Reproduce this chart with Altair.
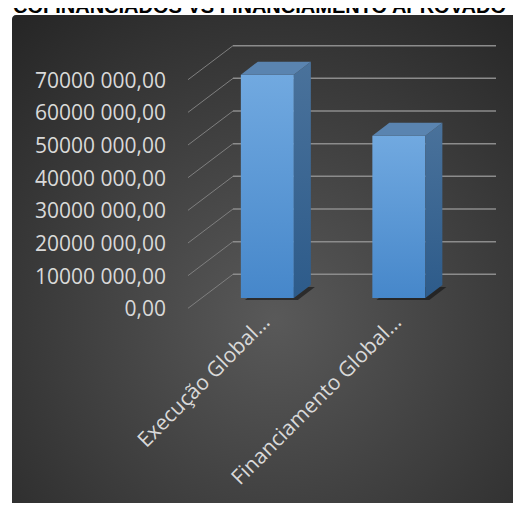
import altair as alt
import pandas as pd

# ---- data ----
categories = ["Execução Global…", "Financiamento Global…"]
values = [68400000, 49700000]
tick_values = [0, 10000000, 20000000, 30000000, 40000000, 50000000, 60000000, 70000000]
tick_labels = ["0,00", "10000 000,00", "20000 000,00", "30000 000,00",
               "40000 000,00", "50000 000,00", "60000 000,00", "70000 000,00"]
title_text = "COFINANCIADOS VS FINANCIAMENTO APROVADO"

bars = pd.DataFrame({"cat": categories, "idx": list(range(len(categories))), "value": values})
ticks = pd.DataFrame({"tick": tick_values, "label": tick_labels})

# ---- geometry / style ----
W, H = 505, 495
YMAX = 70000000
Y_RANGE = [266.3, 37.7]
X_RANGE = [225, 488]
PAD, BW = 0.2985, 0.403           # band layout in slot units
PX_PER_SLOT = (X_RANGE[1] - X_RANGE[0]) / 2
PX_PER_VAL = (Y_RANGE[0] - Y_RANGE[1]) / YMAX
DXU = 17 / PX_PER_SLOT            # bar depth in x (slot units)
DYU = 13 / PX_PER_VAL             # bar depth in y (value units)
FX, FY = -31.4, 23.7              # front-face plane offset (px)

yscale = alt.Scale(domain=[0, YMAX], range=Y_RANGE, nice=False, zero=False)
xscale = alt.Scale(domain=[0, 2], range=X_RANGE, nice=False, zero=False)

def X(field=None, datum=None):
    if datum is not None:
        return alt.X(datum=datum, type="quantitative", scale=xscale, axis=None)
    return alt.X(field, type="quantitative", scale=xscale, axis=None)

def Y(field=None, datum=None):
    if datum is not None:
        return alt.Y(datum=datum, type="quantitative", scale=yscale, axis=None)
    return alt.Y(field, type="quantitative", scale=yscale, axis=None)

bg = alt.Chart(alt.Data(values=[{}])).mark_rect(
    cornerRadius=4,
    fill={"gradient": "radial", "x1": 0.5, "y1": 0.6, "r1": 0,
          "x2": 0.5, "y2": 0.6, "r2": 0.75,
          "stops": [{"offset": 0, "color": "#595959"},
                    {"offset": 1, "color": "#262626"}]},
).encode(x=alt.value(4), x2=alt.value(530), y=alt.value(7), y2=alt.value(510))

grid = alt.Chart(ticks).mark_rule(color="#8c8c8c", strokeWidth=1.5).encode(
    y=Y("tick"), x=X(datum=0), x2=alt.X2(datum=2))

diag = alt.Chart(ticks).mark_rule(color="#7f7f7f", strokeWidth=1, xOffset=-45, yOffset=34).encode(
    x=X(datum=0), x2=alt.X2(datum=0), y=Y("tick"), y2=alt.Y2("tick"))

shadow = alt.Chart(bars).transform_calculate(k="[0, 1]").transform_flatten(["k"]).transform_calculate(
    ty=f"datum.k * {DYU}",
    tl=f"datum.idx + {PAD} + datum.k * {DXU}",
    tr=f"datum.idx + {PAD + BW} + datum.k * {DXU}",
).mark_area(orient="horizontal", color="#111111", opacity=0.6,
            xOffset=FX + 4, x2Offset=FX + 4, yOffset=FY + 2).encode(
    y=Y("ty"), x=X("tl"), x2=alt.X2("tr"), detail="cat:N")

front = alt.Chart(bars).transform_calculate(
    xl=f"datum.idx + {PAD}", xr=f"datum.idx + {PAD + BW}"
).mark_rect(
    xOffset=FX, x2Offset=FX, yOffset=FY, y2Offset=FY,
    fill={"gradient": "linear", "x1": 0, "y1": 0, "x2": 0, "y2": 1,
          "stops": [{"offset": 0, "color": "#71a9e0"},
                    {"offset": 1, "color": "#4687ca"}]},
).encode(x=X("xl"), x2=alt.X2("xr"), y=Y("value"), y2=alt.Y2(datum=0))

side = alt.Chart(bars).transform_calculate(k="[0, 1]").transform_flatten(["k"]).transform_calculate(
    sx=f"datum.idx + {PAD + BW} + datum.k * {DXU}",
    st=f"datum.value + datum.k * {DYU}",
    sb=f"datum.k * {DYU}",
).mark_area(
    orient="vertical", xOffset=FX, yOffset=FY, y2Offset=FY,
    fill={"gradient": "linear", "x1": 0, "y1": 0, "x2": 0, "y2": 1,
          "stops": [{"offset": 0, "color": "#4a729b"},
                    {"offset": 1, "color": "#2d5b8a"}]},
).encode(x=X("sx"), y=Y("st"), y2=alt.Y2("sb"), detail="cat:N")

top = alt.Chart(bars).transform_calculate(k="[0, 1]").transform_flatten(["k"]).transform_calculate(
    ty=f"datum.value + datum.k * {DYU}",
    tl=f"datum.idx + {PAD} + datum.k * {DXU}",
    tr=f"datum.idx + {PAD + BW} + datum.k * {DXU}",
).mark_area(orient="horizontal", color="#5a84b0",
            xOffset=FX, x2Offset=FX, yOffset=FY).encode(
    y=Y("ty"), x=X("tl"), x2=alt.X2("tr"), detail="cat:N")

ylab = alt.Chart(ticks).mark_text(
    align="right", baseline="middle", font="Open Sans", fontSize=21,
    color="#d9d9d9", xOffset=-67, yOffset=36,
).encode(x=X(datum=0), y=Y("tick"), text="label:N")

xlab = alt.Chart(bars).transform_calculate(xc="datum.idx + 0.5").mark_text(
    angle=315, align="right", baseline="middle", font="Open Sans", fontSize=21,
    color="#d9d9d9", xOffset=-32, yOffset=45,
).encode(x=X("xc"), y=Y(datum=0), text="cat:N")

ttl = alt.Chart(alt.Data(values=[{"t": title_text}])).mark_text(
    align="left", baseline="alphabetic", font="Liberation Sans", fontWeight="bold",
    fontSize=20, color="black",
).encode(x=alt.value(5), y=alt.value(5), text="t:N")

chart = alt.layer(bg, grid, diag, shadow, front, side, top, ylab, xlab, ttl).properties(
    width=W, height=H, padding=0, autosize="none", background="white"
).configure_view(stroke=None, fill=None)

chart.save("out.html", embed_options={"renderer": "svg", "actions": False})
